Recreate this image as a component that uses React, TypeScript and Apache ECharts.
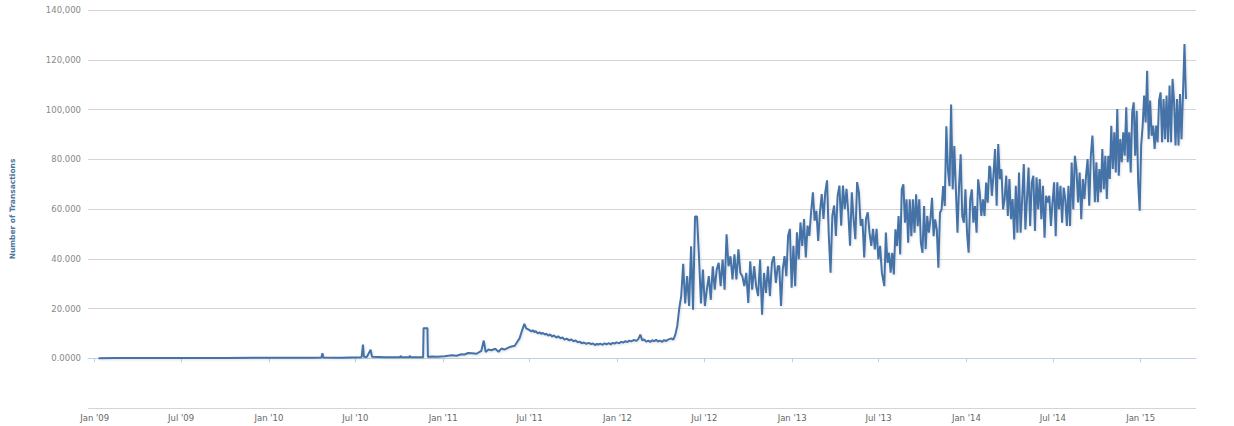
import React, { useEffect, useRef } from 'react';
import * as echarts from 'echarts';

// ---- Data (daily transactions) ----
const earlyDates = [
  '2009-01-09', '2009-02-15', '2009-04-01', '2009-06-01', '2009-08-01', '2009-10-01', '2009-12-01',
  '2010-02-01', '2010-04-01', '2010-04-21', '2010-04-23', '2010-04-25', '2010-06-01', '2010-07-14',
  '2010-07-17', '2010-07-19', '2010-07-25', '2010-08-02', '2010-08-05', '2010-09-01', '2010-10-03',
  '2010-10-04', '2010-10-06', '2010-10-22', '2010-10-23', '2010-10-25', '2010-11-20', '2010-11-21',
  '2010-11-25', '2010-11-29', '2010-11-30', '2010-12-08', '2010-12-20', '2011-01-04', '2011-01-19',
  '2011-01-29', '2011-02-08', '2011-02-15', '2011-02-22', '2011-03-02', '2011-03-12', '2011-03-22',
  '2011-03-27', '2011-03-31', '2011-04-06', '2011-04-12', '2011-04-20', '2011-04-27', '2011-05-03',
  '2011-05-09', '2011-05-20', '2011-05-31', '2011-06-05', '2011-06-10', '2011-06-15', '2011-06-20',
  '2011-06-24', '2011-06-29',
];
const earlyValues = [
  20, 60, 90, 80, 100, 150, 200,
  200, 250, 300, 2000, 300, 250, 400,
  5500, 600, 500, 3400, 600, 400, 400,
  1000, 400, 400, 1000, 400, 400, 12200,
  12000, 12200, 500, 700, 600, 800, 1200,
  1000, 1600, 1500, 2100, 2000, 1800, 3000,
  7100, 2500, 3500, 3200, 3800, 2600, 3900,
  3500, 4500, 5000, 6500, 8000, 11000, 13800,
  12000, 11500,
];

const plateauDates = [
  '2011-07-05', '2011-07-08', '2011-07-11', '2011-07-14', '2011-07-18', '2011-07-22', '2011-07-26',
  '2011-07-29', '2011-08-02', '2011-08-05', '2011-08-09', '2011-08-13', '2011-08-17', '2011-08-21',
  '2011-08-26', '2011-08-30', '2011-09-04', '2011-09-08', '2011-09-12', '2011-09-17', '2011-09-22',
  '2011-09-26', '2011-10-01', '2011-10-05', '2011-10-10', '2011-10-14', '2011-10-18', '2011-10-23',
  '2011-10-28', '2011-11-02', '2011-11-07', '2011-11-11', '2011-11-15', '2011-11-19', '2011-11-22',
  '2011-11-26', '2011-12-01', '2011-12-05', '2011-12-09', '2011-12-14', '2011-12-18', '2011-12-22',
  '2011-12-26', '2011-12-30', '2012-01-05', '2012-01-09', '2012-01-13', '2012-01-18', '2012-01-22',
  '2012-01-26', '2012-01-30', '2012-02-04', '2012-02-10', '2012-02-14', '2012-02-18', '2012-02-22',
  '2012-02-26', '2012-03-01', '2012-03-06', '2012-03-10', '2012-03-14', '2012-03-18', '2012-03-22',
  '2012-03-26', '2012-03-30', '2012-04-04', '2012-04-08', '2012-04-12', '2012-04-15',
];
const plateauValues = [
  10800, 11300, 10500, 10900, 10000, 10400, 9800,
  10200, 9500, 9900, 9100, 9600, 8700, 9200,
  8300, 8800, 8000, 8400, 7500, 7900, 7200,
  7600, 6800, 7200, 6400, 6700, 6000, 6300,
  5800, 6200, 5700, 5900, 5300, 5800, 5500,
  5900, 5400, 6000, 5600, 6100, 5500, 6200,
  5900, 6400, 6000, 6600, 6300, 6900, 6500,
  7100, 6800, 7300, 7000, 7800, 9500, 7200,
  7600, 6700, 7100, 6500, 7300, 6800, 7400,
  6700, 7100, 6600, 7300, 6900, 7400,
];

// Dense periods: values evenly spread between the first and last date
const range2012 = ['2012-04-23', '2012-12-02'];
const values2012 = [
  8000, 7500, 9500, 13000, 20000, 25000, 38000, 22000, 33000, 21000,
  45000, 19500, 57000, 57000, 41000, 22000, 35700, 21000, 27600, 33000,
  23500, 37000, 27600, 35700, 38400, 29000, 39700, 27600, 49800, 37000,
  41000, 31700, 41800, 31700, 43800, 34300, 33000, 29000, 34300, 22200,
  39000, 27600, 37000, 29000, 25000, 39700, 17500, 34300, 26300, 37000,
  25000, 38400, 41000, 30300, 37000,
];

const range2013a = ['2012-12-05', '2013-07-08'];
const values2013a = [
  37100, 21000, 35800, 41100, 33000, 49200, 52000, 28400, 45200, 29000,
  50600, 39800, 54600, 45200, 56000, 40500, 53300, 49200, 58700, 66700,
  55300, 59300, 47200, 58700, 66000, 56000, 66700, 71500, 49200, 34400,
  57300, 61400, 49200, 65400, 69400, 53300, 69400, 60000, 68100, 58700,
  45200, 66700, 56000, 47900, 70800, 66700, 53300, 56000, 40500, 56000,
  58700, 50600, 45200, 52000, 43800, 52000, 39800, 45200, 34400,
];

const range2013b = ['2013-07-13', '2014-02-18'];
const values2013b = [
  29000, 50500, 38400, 42400, 34400, 42400, 33700, 51800, 45100, 57200,
  41700, 67900, 69900, 54500, 63900, 46400, 63900, 49100, 63900, 50500,
  65900, 53100, 63900, 46400, 42400, 61200, 43800, 57200, 50500, 55800,
  64500, 49100, 55800, 51800, 36400, 58500, 59800, 69200, 61200, 93300,
  75900, 69200, 102000, 67900, 85300, 67900, 50500, 69200, 82000, 57200,
  54500, 67900, 50500, 42400, 63900, 67900, 54500, 61200, 50500, 71900,
  66500, 57200, 63900, 57200, 70600, 62500, 77300,
];

const range2014 = ['2014-02-20', '2014-09-22'];
const values2014 = [
  76700, 65300, 73400, 84100, 61300, 86100, 72000, 76000, 59900, 64000,
  73400, 57200, 72000, 55900, 64000, 47800, 69300, 50500, 74700, 50500,
  64000, 78100, 51800, 64000, 76700, 53200, 70700, 73400, 51200, 72700,
  59900, 72000, 55900, 69300, 48500, 65300, 62600, 65300, 53200, 62600,
  70700, 49100, 70700, 59900, 69300, 54500, 68600, 64000, 53200, 69300,
  53200, 78700, 59900, 81400, 76000, 62600, 74700, 55900, 72000, 64000,
  73400, 80100, 61300, 81400, 89500,
];

const range2015 = ['2014-09-24', '2015-04-06'];
const values2015 = [
  81400, 62700, 78800, 62700, 76100, 66700, 84100, 68000, 81400, 64000,
  81400, 72100, 93500, 76100, 90800, 74700, 100200, 73400, 88100, 78800,
  90800, 81400, 100900, 78800, 90800, 74700, 98900, 102900, 81400, 99500,
  70700, 59300, 85500, 93500, 105600, 94800, 115600, 88100, 103600, 89500,
  93500, 84100, 93500, 86800, 103600, 106900, 86800, 104200, 88100, 105600,
  86800, 109600, 86800, 112300, 103600, 85500, 104200, 85500, 106200, 88100,
  106200, 126300, 104200,
];

const axisRange = ['2008-12-18', '2015-04-27'];
const xTickDates = [
  '2009-01-01', '2009-07-01', '2010-01-01', '2010-07-01', '2011-01-01', '2011-07-01', '2012-01-01',
  '2012-07-01', '2013-01-01', '2013-07-01', '2014-01-01', '2014-07-01', '2015-01-01',
];
const yTickValues = [0, 20000, 40000, 60000, 80000, 100000, 120000, 140000];
const yTickLabels = ['0.0000', '20.000', '40.000', '60.000', '80.000', '100,000', '120,000', '140,000'];
const MONTHS = ['Jan', 'Feb', 'Mar', 'Apr', 'May', 'Jun', 'Jul', 'Aug', 'Sep', 'Oct', 'Nov', 'Dec'];

const ts = (s: string) => {
  const [y, m, d] = s.split('-').map(Number);
  return Date.UTC(y, m - 1, d);
};

function spread(range: string[], values: number[]): [number, number][] {
  const a = ts(range[0]);
  const b = ts(range[1]);
  const step = (b - a) / (values.length - 1);
  return values.map((v, i) => [a + i * step, v]);
}

function buildData(): [number, number][] {
  const early: [number, number][] = earlyDates.map((d, i) => [ts(d), earlyValues[i]]);
  const plateau: [number, number][] = plateauDates.map((d, i) => [ts(d), plateauValues[i]]);
  return [
    ...early,
    ...plateau,
    ...spread(range2012, values2012),
    ...spread(range2013a, values2013a),
    ...spread(range2013b, values2013b),
    ...spread(range2014, values2014),
    ...spread(range2015, values2015),
  ];
}

export default function App() {
  const ref = useRef<HTMLDivElement>(null);

  useEffect(() => {
    if (!ref.current) return;
    const chart = echarts.init(ref.current, undefined, { renderer: 'svg' });
    const ticks = xTickDates.map(ts);
    chart.setOption({
      animation: false,
      backgroundColor: '#ffffff',
      grid: { left: 86, right: 38, top: 10, bottom: 18 },
      xAxis: {
        type: 'value',
        min: ts(axisRange[0]),
        max: ts(axisRange[1]),
        axisLine: { show: true, lineStyle: { color: '#C0D0E0', width: 1 } },
        axisTick: { show: true, customValues: ticks, length: 4, lineStyle: { color: '#C0D0E0' } },
        axisLabel: {
          customValues: ticks,
          formatter: (v: number) => {
            const d = new Date(v);
            return MONTHS[d.getUTCMonth()] + " '" + String(d.getUTCFullYear()).slice(2);
          },
          color: '#666666',
          fontSize: 8.5,
          fontFamily: 'DejaVu Sans',
          margin: 5,
          showMinLabel: true,
          showMaxLabel: true,
        },
        splitLine: { show: false },
      },
      yAxis: {
        type: 'value',
        min: -20000,
        max: 140000,
        interval: 20000,
        name: 'Number of Transactions',
        nameLocation: 'middle',
        nameGap: 72,
        nameRotate: 90,
        nameTextStyle: { color: '#4d759e', fontWeight: 'bold', fontSize: 7.5, fontFamily: 'DejaVu Sans' },
        axisLine: { show: false },
        axisTick: { show: false },
        axisLabel: {
          formatter: (v: number) => {
            const i = yTickValues.indexOf(v);
            return i >= 0 ? yTickLabels[i] : '';
          },
          color: '#888888',
          fontSize: 8.5,
          fontFamily: 'DejaVu Sans',
          margin: 7,
        },
        splitLine: { show: true, lineStyle: { color: '#D4D4D4', width: 1 } },
      },
      series: [
        {
          type: 'line',
          data: buildData(),
          showSymbol: false,
          symbol: 'none',
          lineStyle: {
            color: '#4572A7',
            width: 2,
            shadowColor: 'rgba(0,0,0,0.12)',
            shadowBlur: 2,
            shadowOffsetX: 1,
            shadowOffsetY: 1,
          },
        },
      ],
    });
    return () => chart.dispose();
  }, []);

  return (
    <div
      ref={ref}
      style={{ position: 'fixed', left: 0, top: 0, width: 1234, height: 426, background: '#fff' }}
    />
  );
}
